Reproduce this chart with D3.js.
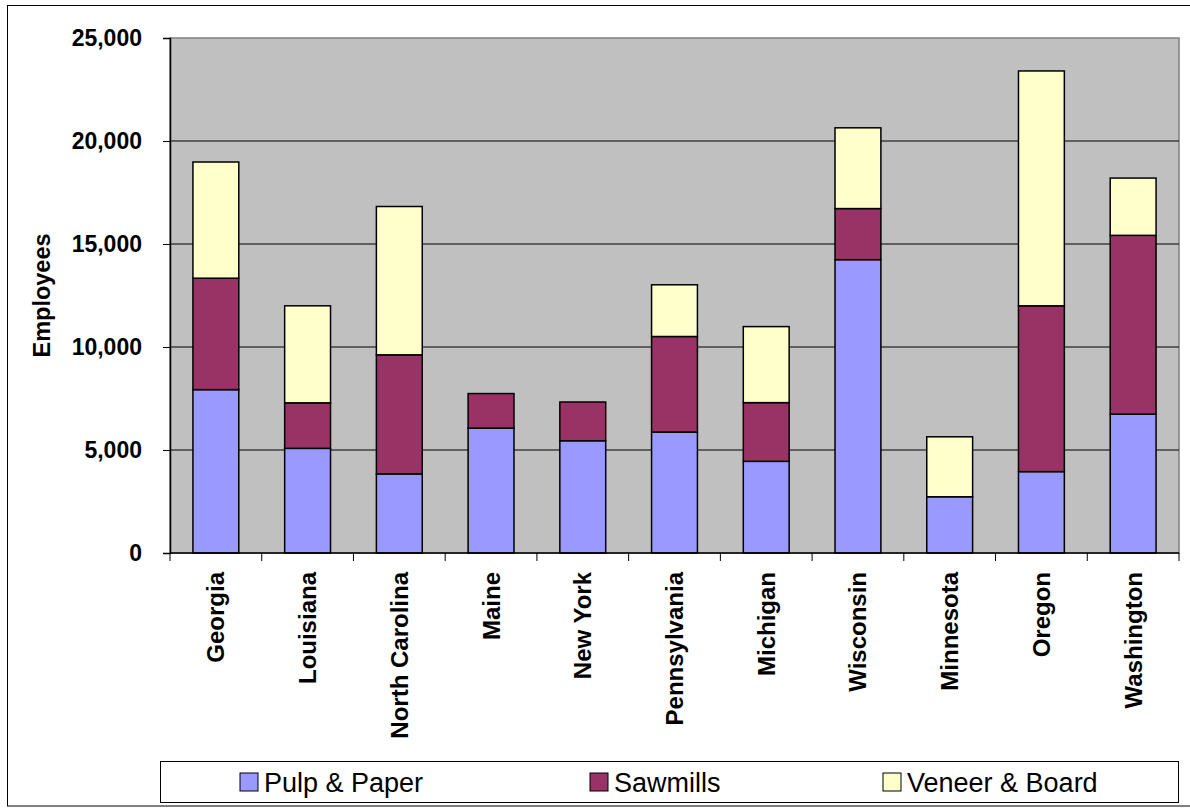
<!DOCTYPE html>
<html>
<head>
<meta charset="utf-8">
<script src="https://cdn.jsdelivr.net/npm/d3@7"></script>
<style>
  body { margin: 0; background: #fff; }
  svg { font-family: "Liberation Sans", Arial, sans-serif; }
</style>
</head>
<body>
<div id="chart"></div>
<script>
// data
var states = ["Georgia", "Louisiana", "North Carolina", "Maine", "New York", "Pennsylvania",
              "Michigan", "Wisconsin", "Minnesota", "Oregon", "Washington"];
var pulpPaper   = [7930, 5080, 3840, 6060, 5450, 5870, 4450, 14240, 2730, 3950, 6740];
var sawmills    = [5410, 2210, 5780, 1680, 1880, 4640, 2850, 2480, 0, 8050, 8680];
var veneerBoard = [5640, 4710, 7200, 0, 0, 2510, 3690, 3920, 2910, 11400, 2780];
var seriesNames = ["Pulp & Paper", "Sawmills", "Veneer & Board"];
var yTicks = [0, 5000, 10000, 15000, 20000, 25000];

var colors = ["#9999FF", "#993366", "#FFFFCC"];

var W = 1190, H = 808;
var margin = {top: 38, right: 11, bottom: 255, left: 170};
var width = W - margin.left - margin.right,
    height = H - margin.top - margin.bottom;

var svg = d3.select("#chart").append("svg")
    .attr("width", W)
    .attr("height", H);

// outer chart border
svg.append("rect")
    .attr("x", 7.5).attr("y", 5.5)
    .attr("width", W + 10).attr("height", 800.5)
    .attr("fill", "none")
    .attr("stroke", "#000")
    .attr("stroke-width", 1);

var g = svg.append("g")
    .attr("transform", "translate(" + margin.left + "," + margin.top + ")");

var x = d3.scaleBand()
    .domain(states)
    .range([0, width])
    .paddingInner(0.5)
    .paddingOuter(0.25);

var y = d3.scaleLinear()
    .domain([0, 25000])
    .range([height, 0]);

// plot background
g.append("rect")
    .attr("width", width)
    .attr("height", height)
    .attr("fill", "#C0C0C0")
    .attr("stroke", "#808080")
    .attr("stroke-width", 1.5);

// gridlines
g.selectAll(".grid")
    .data(yTicks.slice(1, -1))
    .enter().append("line")
    .attr("x1", 0).attr("x2", width)
    .attr("y1", function(d) { return y(d); })
    .attr("y2", function(d) { return y(d); })
    .attr("stroke", "#000")
    .attr("stroke-width", 1);

// stacked bars
var table = states.map(function(s, i) {
  return {state: s, "Pulp & Paper": pulpPaper[i], "Sawmills": sawmills[i], "Veneer & Board": veneerBoard[i]};
});
var stacked = d3.stack().keys(seriesNames)(table);

g.selectAll(".series")
    .data(stacked)
    .enter().append("g")
    .attr("fill", function(d, i) { return colors[i]; })
  .selectAll("rect")
    .data(function(d) { return d.filter(function(p) { return p[1] - p[0] > 0; }); })
    .enter().append("rect")
    .attr("x", function(d) { return x(d.data.state); })
    .attr("width", x.bandwidth())
    .attr("y", function(d) { return y(d[1]); })
    .attr("height", function(d) { return y(d[0]) - y(d[1]); })
    .attr("stroke", "#000")
    .attr("stroke-width", 1.5);

// y axis
var yAxis = g.append("g")
    .call(d3.axisLeft(y).tickValues(yTicks).tickSize(7).tickPadding(21)
      .tickFormat(d3.format(",")));
yAxis.select(".domain").attr("stroke", "#000").attr("stroke-width", 1.5);
yAxis.selectAll("text")
    .attr("font-size", 23).attr("font-weight", "bold")
    .attr("font-family", "Liberation Sans, Arial, sans-serif");

// x axis: ticks at the category boundaries
var step = x.step();
var xAxis = g.append("g").attr("transform", "translate(0," + height + ")");
xAxis.append("line")
    .attr("x1", 0).attr("x2", width)
    .attr("stroke", "#000").attr("stroke-width", 1.5);
xAxis.selectAll(".tick")
    .data(d3.range(states.length + 1))
    .enter().append("line")
    .attr("x1", function(i) { return i * step; })
    .attr("x2", function(i) { return i * step; })
    .attr("y1", 0).attr("y2", 8)
    .attr("stroke", "#000").attr("stroke-width", 1);

xAxis.selectAll(".label")
    .data(states)
    .enter().append("text")
    .attr("transform", function(d) {
      return "translate(" + (x(d) + x.bandwidth() / 2 + 8.5) + ",19) rotate(-90)";
    })
    .attr("text-anchor", "end")
    .attr("font-size", 24)
    .attr("font-weight", "bold")
    .text(function(d) { return d; });

// y axis title
svg.append("text")
    .attr("transform", "translate(50," + (margin.top + height / 2) + ") rotate(-90)")
    .attr("text-anchor", "middle")
    .attr("font-size", 23.5)
    .attr("font-weight", "bold")
    .text("Employees");

// legend
var legend = svg.append("g");
legend.append("rect")
    .attr("x", 160.5).attr("y", 761.5)
    .attr("width", 1018).attr("height", 41)
    .attr("fill", "#fff")
    .attr("stroke", "#000").attr("stroke-width", 1);

var legendX = [240, 590, 883];
var items = legend.selectAll(".item")
    .data(seriesNames)
    .enter().append("g")
    .attr("transform", function(d, i) { return "translate(" + legendX[i] + ",782)"; });
items.append("rect")
    .attr("x", 0).attr("y", -9)
    .attr("width", 18).attr("height", 18)
    .attr("fill", function(d, i) { return colors[i]; })
    .attr("stroke", "#000").attr("stroke-width", 1);
items.append("text")
    .attr("x", 24).attr("y", 9.5)
    .attr("font-size", 27)
    .text(function(d) { return d; });
</script>
</body>
</html>
